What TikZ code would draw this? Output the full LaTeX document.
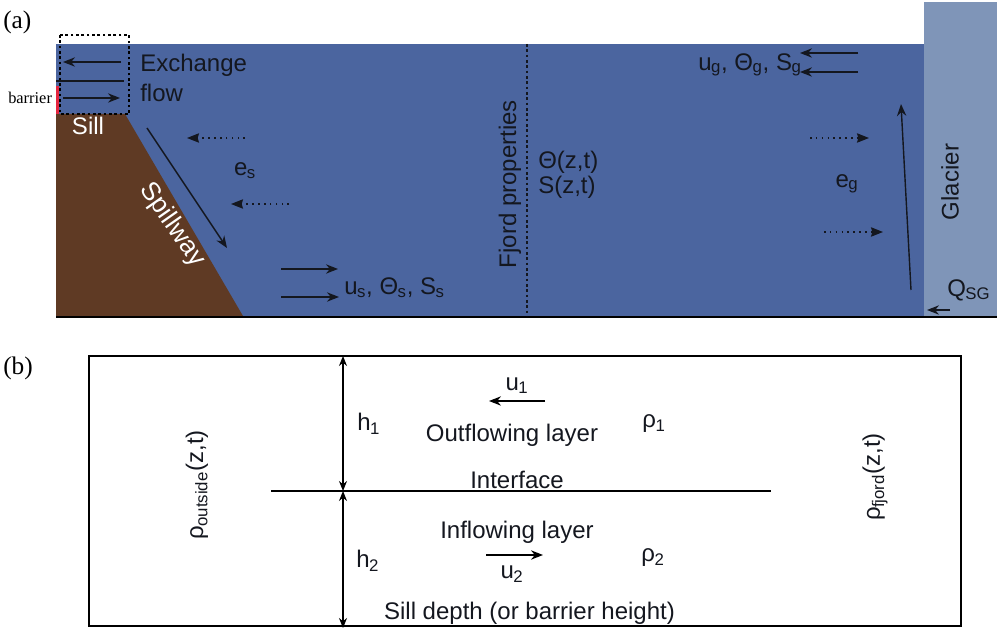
\documentclass[tikz,border=0pt]{standalone}
\usepackage{fontspec}
\setmainfont{Liberation Sans}
\newfontfamily\serifface{Liberation Serif}
\usetikzlibrary{arrows.meta}
\definecolor{seablue}{HTML}{4B659F}
\definecolor{icecol}{HTML}{7F95B8}
\definecolor{rockcol}{HTML}{5F3A24}
\definecolor{inkcol}{HTML}{14171F}
\definecolor{barriercol}{HTML}{E5263F}
\newcommand{\sbs}[1]{\kern-0.02em\textsubscript{\raisebox{0.1ex}{#1}}}
\tikzset{
  lab/.style={font=\fontsize{18}{20}\selectfont, text=inkcol, inner sep=0pt},
  whitelab/.style={lab, text=white},
  seriflab/.style={font=\serifface\fontsize{19}{21}\selectfont, text=black, inner sep=0pt},
  flowarrow/.style={draw=inkcol, line width=1.05pt, -{Stealth[length=9pt,width=7pt]}},
  dotarrow/.style={draw=inkcol, line width=0.9pt, dash pattern=on 1.2pt off 3.2pt, -{Stealth[length=9pt,width=7pt,inset=1pt]}},
  plainline/.style={draw=inkcol, line width=1.05pt},
  dimarrow/.style={draw=black, line width=1.05pt, {Stealth[length=7.5pt,width=6pt]}-{Stealth[length=7.5pt,width=6pt]}},
  panelarrow/.style={draw=black, line width=1.05pt, -{Stealth[length=9pt,width=7pt]}}
}
\begin{document}
\begin{tikzpicture}[x=0.75pt,y=-0.75pt]
\useasboundingbox (0,0) rectangle (1000,634);
% panel (a) fills
\fill[seablue] (56,44) rectangle (924,316);
\fill[icecol] (924,2) rectangle (997,316);
\fill[rockcol] (56,114) -- (125,114) -- (243,316) -- (56,316) -- cycle;
\fill[barriercol] (56,86) rectangle (58.5,114);
\draw[black, line width=1.5pt] (56,317) -- (997,317);
% dotted box and fjord section
\draw[black, line width=0.9pt, dash pattern=on 2pt off 2pt] (60,35) rectangle (129,114);
\draw[inkcol, line width=0.8pt, dash pattern=on 2pt off 2pt] (527,44) -- (527,316);
% coordinates of panel (a) arrows
\coordinate (exA) at (121,62); \coordinate (exB) at (63,62);
\coordinate (miA) at (56,81);  \coordinate (miB) at (124,81);
\coordinate (inA) at (63,98);  \coordinate (inB) at (120,98);
\coordinate (spA) at (147,128); \coordinate (spB) at (227,248);
\coordinate (esA) at (245,138); \coordinate (esB) at (187,138);
\coordinate (etA) at (289,204); \coordinate (etB) at (231,204);
\coordinate (usA) at (281,269); \coordinate (usB) at (338,269);
\coordinate (vsA) at (281,297); \coordinate (vsB) at (339,297);
\coordinate (ugA) at (858,53); \coordinate (ugB) at (800,53);
\coordinate (vgA) at (858,72); \coordinate (vgB) at (800,72);
\coordinate (plA) at (911,290); \coordinate (plB) at (901,104);
\coordinate (egA) at (810,138); \coordinate (egB) at (869,138);
\coordinate (fgA) at (824,232); \coordinate (fgB) at (883,232);
\coordinate (qA) at (950,310); \coordinate (qB) at (927,310);
\draw[flowarrow] (exA) -- (exB);
\draw[plainline] (miA) -- (miB);
\draw[flowarrow] (inA) -- (inB);
\draw[flowarrow] (spA) -- (spB);
\draw[dotarrow] (esA) -- (esB);
\draw[dotarrow] (etA) -- (etB);
\draw[flowarrow] (usA) -- (usB);
\draw[flowarrow] (vsA) -- (vsB);
\draw[flowarrow] (ugA) -- (ugB);
\draw[flowarrow] (vgA) -- (vgB);
\draw[flowarrow] (plA) -- (plB);
\draw[dotarrow] (egA) -- (egB);
\draw[dotarrow] (fgA) -- (fgB);
\draw[flowarrow] (qA) -- (qB);
% panel (a) labels
\node[seriflab, anchor=west] (tagA) at (3,22) {(a)};
\node[anchor=west, inner sep=0pt, font=\serifface\fontsize{12.3}{14}\selectfont] (barrier) at (8,98) {barrier};
\node[lab, anchor=west] (exchange) at (140,65) {Exchange};
\node[lab, anchor=west] (flow) at (140,93) {flow};
\node[whitelab] (sill) at (88,126) {Sill};
\node[lab] (es) at (245,171) {e\sbs{s}};
\node[whitelab, rotate=-55, font=\fontsize{19.5}{21}\selectfont] (spillway) at (172,225) {Spillway};
\node[lab, anchor=west] (us) at (344,288) {u\sbs{s}, Θ\sbs{s}, S\sbs{s}};
\node[lab, rotate=90] (fjord) at (510,184) {Fjord properties};
\node[lab, anchor=west] (theta) at (538,162) {Θ(z,t)};
\node[lab, anchor=west] (salt) at (538,187) {S(z,t)};
\node[lab, anchor=west] (ug) at (698,65) {u\sbs{g}, Θ\sbs{g}, S\sbs{g}};
\node[lab] (eg) at (847,184) {e\sbs{g}};
\node[lab, rotate=90] (glacier) at (950,182) {Glacier};
\node[lab, anchor=west] (qsg) at (947,290) {Q\sbs{SG}};
% panel (b)
\node[seriflab, anchor=west] (tagB) at (3,368) {(b)};
\coordinate (boxNW) at (89,356); \coordinate (boxSE) at (961,626);
\draw[black, line width=1.05pt] (boxNW) rectangle (boxSE);
\coordinate (ifL) at (271,491); \coordinate (ifR) at (771,491);
\draw[black, line width=1.05pt] (ifL) -- (ifR);
\coordinate (dTop) at (343,356); \coordinate (dMid) at (343,491); \coordinate (dBot) at (343,628);
\draw[dimarrow] (dTop) -- (dMid);
\draw[dimarrow] (dMid) -- (dBot);
\coordinate (uoA) at (545,401); \coordinate (uoB) at (489,401);
\coordinate (uiA) at (486,555); \coordinate (uiB) at (543,555);
\draw[panelarrow] (uoA) -- (uoB);
\draw[panelarrow] (uiA) -- (uiB);
\node[lab, anchor=west] (h1) at (357,424) {h\sbs{1}};
\node[lab, anchor=west] (h2) at (356,561) {h\sbs{2}};
\node[lab] (u1) at (517,386) {u\sbs{1}};
\node[lab] (u2) at (512,575) {u\sbs{2}};
\node[lab] (outflow) at (512,435) {Outflowing layer};
\node[lab] (interface) at (517,480) {Interface};
\node[lab] (inflow) at (517,532) {Inflowing layer};
\node[lab] (sdepth) at (529.5,613) {Sill depth (or barrier height)};
\node[lab] (r1) at (654,424) {ρ\sbs{1}};
\node[lab] (r2) at (653,558) {ρ\sbs{2}};
\node[lab, rotate=90] (rout) at (197,485) {ρ\sbs{outside}(z,t)};
\node[lab, rotate=90] (rfj) at (875,477) {ρ\sbs{fjord}(z,t)};
\end{tikzpicture}
\end{document}
